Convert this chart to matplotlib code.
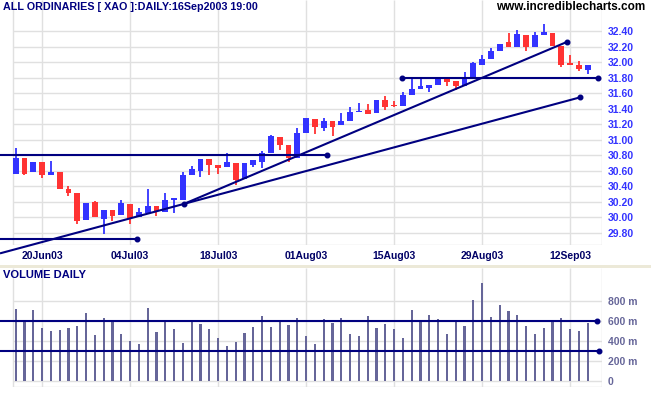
import matplotlib
matplotlib.use("Agg")
import matplotlib.pyplot as plt
from matplotlib.patches import Rectangle

plt.rcParams["font.family"] = ["Liberation Sans", "DejaVu Sans"]

TITLE = "ALL ORDINARIES [ XAO ]:DAILY:16Sep2003 19:00"
SITE = "www.incrediblecharts.com"

# trading-day index -> date label
TICK_IDX = [3, 13, 23, 33, 43, 53, 63]
TICK_LABELS = ["20Jun03", "04Jul03", "18Jul03", "01Aug03", "15Aug03", "29Aug03", "12Sep03"]

OPEN = [30.56, 30.76, 30.58, 30.71, 30.55, 30.59, 30.36, 30.31, 29.96, 30.20,
        29.98, 30.09, 30.03, 30.17, 30.01, 30.05, 30.15, 30.07, 30.23, 30.23,
        30.54, 30.60, 30.75, 30.67, 30.65, 30.70, 30.49, 30.68, 30.72, 30.83,
        31.04, 30.93, 30.77, 31.09, 31.27, 31.15, 31.24, 31.19, 31.24, 31.36,
        31.38, 31.34, 31.52, 31.45, 31.43, 31.58, 31.66, 31.67, 31.71, 31.81,
        31.76, 31.69, 31.79, 31.97, 32.04, 32.14, 32.26, 32.20, 32.35, 32.20,
        32.35, 32.38, 32.21, 31.99, 31.96, 31.90]
HIGH = [30.89, 30.76, 30.71, 30.71, 30.73, 30.59, 30.40, 30.31, 30.19, 30.21,
        30.09, 30.09, 30.22, 30.17, 30.12, 30.37, 30.15, 30.31, 30.25, 30.58,
        30.66, 30.75, 30.75, 30.67, 30.83, 30.70, 30.70, 30.74, 30.85, 31.06,
        31.04, 30.93, 31.15, 31.28, 31.27, 31.28, 31.24, 31.35, 31.42, 31.48,
        31.46, 31.52, 31.56, 31.50, 31.62, 31.80, 31.78, 31.71, 31.80, 31.81,
        31.76, 31.88, 32.00, 32.10, 32.19, 32.24, 32.38, 32.42, 32.35, 32.39,
        32.50, 32.38, 32.21, 32.10, 32.02, 31.96]
LOW = [30.56, 30.55, 30.58, 30.51, 30.55, 30.36, 30.28, 29.92, 29.96, 30.00,
       29.78, 29.95, 30.03, 29.92, 30.01, 30.05, 30.02, 30.07, 30.06, 30.23,
       30.54, 30.52, 30.54, 30.56, 30.65, 30.42, 30.49, 30.65, 30.64, 30.83,
       30.87, 30.71, 30.77, 31.09, 31.08, 31.11, 31.05, 31.19, 31.24, 31.36,
       31.33, 31.34, 31.39, 31.42, 31.43, 31.58, 31.66, 31.62, 31.71, 31.70,
       31.64, 31.69, 31.79, 31.97, 32.04, 32.14, 32.20, 32.20, 32.15, 32.20,
       32.35, 32.21, 31.94, 31.96, 31.89, 31.85]
CLOSE = [30.77, 30.56, 30.71, 30.54, 30.59, 30.36, 30.31, 29.95, 30.19, 30.00,
         30.09, 30.02, 30.18, 29.99, 30.07, 30.14, 30.08, 30.23, 30.24, 30.54,
         30.62, 30.75, 30.67, 30.64, 30.71, 30.48, 30.70, 30.74, 30.83, 31.05,
         30.93, 30.76, 31.09, 31.28, 31.17, 31.24, 31.17, 31.24, 31.36, 31.37,
         31.33, 31.52, 31.42, 31.43, 31.58, 31.66, 31.69, 31.71, 31.80, 31.75,
         31.69, 31.81, 31.99, 32.04, 32.14, 32.24, 32.20, 32.36, 32.20, 32.35,
         32.39, 32.21, 31.96, 31.96, 31.92, 31.96]
VOLUME_M = [723, 610, 710, 533, 500, 510, 533, 550, 683, 460,
            633, 600, 470, 400, 370, 733, 490, 593, 520, 380,
            600, 570, 520, 430, 350, 390, 480, 540, 650, 540,
            600, 560, 630, 450, 370, 620, 580, 630, 470, 450,
            650, 530, 570, 520, 430, 710, 600, 660, 620, 470,
            600, 550, 810, 980, 640, 760, 700, 660, 550, 470,
            530, 610, 630, 520, 500, 580]

PRICE_TICKS = [29.80, 30.00, 30.20, 30.40, 30.60, 30.80, 31.00, 31.20,
               31.40, 31.60, 31.80, 32.00, 32.20, 32.40]
VOL_TICKS = [0, 200, 400, 600, 800]
VOL_TICK_LABELS = ["0", "200 m", "400 m", "600 m", "800 m"]

# drawn lines: (x0, y0, x1, y1, dot at start, dot at end)
PRICE_LINES = [
    (-1.78, 29.535, 64.13, 31.548, False, True),
    (19.09, 30.172, 62.61, 32.262, True, True),
    (-1.78, 30.80, 35.41, 30.80, False, True),
    (-1.78, 29.72, 13.75, 29.72, False, True),
    (43.86, 31.80, 66.17, 31.80, True, True),
]
VOL_LINES = [
    (-1.78, 600, 66.06, 600, False, True),
    (-1.78, 300, 66.28, 300, False, True),
]

W, H = 651, 395
X_LEFT, X_RIGHT = -1.78, 66.62
GRID_LEFT = -0.31
NAVY = "#000080"
GRID = "#e0e0e0"
UP, DOWN = "#3333ff", "#ff3333"
VOLC = "#666699"

fig = plt.figure(figsize=(W / 100, H / 100), dpi=100)
fig.patch.set_facecolor("white")


def px_axes(left, top, right, bottom):
    return fig.add_axes([left / W, 1 - bottom / H, (right - left) / W, (bottom - top) / H])


def draw_lines(a, lines):
    for x0, y0, x1, y1, d0, d1 in lines:
        a.plot([x0, x1], [y0, y1], color=NAVY, lw=1.5, clip_on=False, zorder=5,
               solid_capstyle="butt")
        for (x, y, d) in ((x0, y0, d0), (x1, y1, d1)):
            if d:
                a.plot(x, y, "o", color=NAVY, ms=3.3, clip_on=False, zorder=6)


def grid(a, yticks):
    a.hlines(yticks, GRID_LEFT, X_RIGHT, color=GRID, lw=1, zorder=0)
    lo, hi = a.get_ylim()
    a.vlines([GRID_LEFT] + TICK_IDX + [X_RIGHT], lo, hi, color=GRID, lw=1, zorder=0)
    a.hlines([lo], GRID_LEFT, X_RIGHT, color=GRID, lw=1, zorder=0)
    for s in a.spines.values():
        s.set_visible(False)


# ---- price panel
ax = px_axes(0, 0, 602, 245)
ax.set_xlim(X_LEFT, X_RIGHT)
ax.set_ylim(29.643, 32.804)
grid(ax, PRICE_TICKS)

idx = list(range(len(CLOSE)))
colors = [UP if c >= o else DOWN for o, c in zip(OPEN, CLOSE)]
ax.vlines(idx, LOW, HIGH, colors=colors, lw=1.3, zorder=3)
ax.bar(idx, [max(abs(c - o), 0.014) for o, c in zip(OPEN, CLOSE)],
       bottom=[min(o, c) for o, c in zip(OPEN, CLOSE)],
       width=0.65, color=colors, zorder=4)
draw_lines(ax, PRICE_LINES)

ax.yaxis.tick_right()
ax.set_yticks(PRICE_TICKS, [f"{t:.2f}" for t in PRICE_TICKS])
ax.set_xticks(TICK_IDX, TICK_LABELS)
ax.tick_params(axis="y", length=0, pad=4, labelsize=7.5, labelcolor=UP)
ax.tick_params(axis="x", length=0, pad=4.5, labelsize=7.5, labelcolor="#000066")
for lab in ax.get_xticklabels() + ax.get_yticklabels():
    lab.set_fontweight("bold")

# ---- volume panel
axv = px_axes(0, 268, 602, 387)
axv.set_xlim(X_LEFT, X_RIGHT)
axv.set_ylim(-60, 1130)
grid(axv, VOL_TICKS)
axv.bar(idx, VOLUME_M, width=0.26, color=VOLC, zorder=3)
draw_lines(axv, VOL_LINES)
axv.yaxis.tick_right()
axv.set_yticks(VOL_TICKS, VOL_TICK_LABELS)
axv.set_xticks([])
axv.tick_params(axis="y", length=0, pad=4, labelsize=7.5, labelcolor=VOLC)
for lab in axv.get_yticklabels():
    lab.set_fontweight("bold")

# ---- frame decorations and captions
fig.add_artist(Rectangle((0, 1 - 268 / H), 1, 3 / H, transform=fig.transFigure,
                         color="#ece9d8", lw=0))
fig.text(3 / W, 1 - 7 / H, TITLE, ha="left", va="center", fontsize=7.75,
         fontweight="bold", color=NAVY)
fig.text(645 / W, 1 - 7 / H, SITE, ha="right", va="center", fontsize=8.5,
         fontweight="bold", color="black")
fig.text(3 / W, 1 - 275 / H, "VOLUME DAILY", ha="left", va="center", fontsize=8,
         fontweight="bold", color=NAVY)

fig.savefig("out.png", dpi=100, facecolor="white")
